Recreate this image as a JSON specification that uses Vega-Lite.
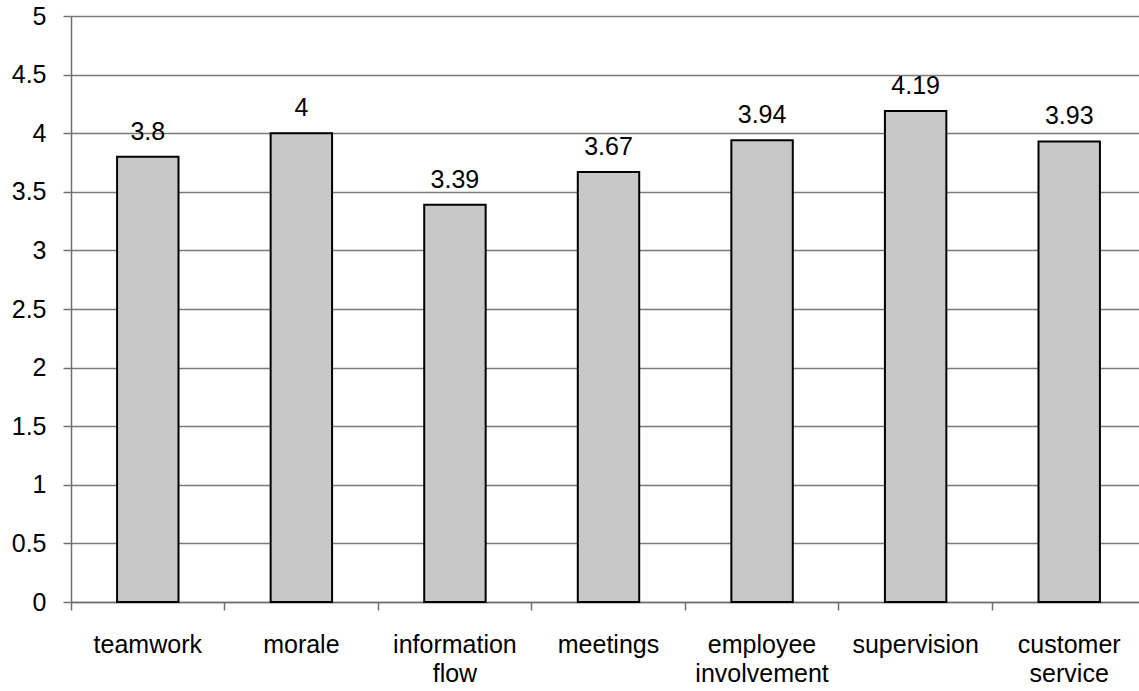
{
  "$schema": "https://vega.github.io/schema/vega-lite/v6.json",
  "width": 1075,
  "height": 586,
  "autosize": {"type": "none"},
  "padding": {"left": 71, "top": 16, "right": 0, "bottom": 89},
  "background": "white",
  "config": {
    "view": {"stroke": null},
    "font": "Liberation Sans"
  },
  "data": {
    "values": [
      {"category": "teamwork", "value": 3.8},
      {"category": "morale", "value": 4},
      {"category": "information flow", "value": 3.39},
      {"category": "meetings", "value": 3.67},
      {"category": "employee involvement", "value": 3.94},
      {"category": "supervision", "value": 4.19},
      {"category": "customer service", "value": 3.93}
    ]
  },
  "encoding": {
    "x": {
      "field": "category",
      "type": "nominal",
      "sort": null,
      "scale": {"paddingInner": 0, "paddingOuter": 0},
      "axis": {
        "title": null,
        "labelAngle": 0,
        "labelFontSize": 25,
        "labelColor": "black",
        "labelPadding": 22,
        "labelLineHeight": 29,
        "labelExpr": "split(datum.label, ' ')",
        "ticks": true,
        "bandPosition": 0,
        "tickSize": 8,
        "tickColor": "#707070",
        "tickWidth": 1.5,
        "domainColor": "#707070",
        "domainWidth": 1.5,
        "grid": false
      }
    },
    "y": {
      "field": "value",
      "type": "quantitative",
      "scale": {"domain": [0, 5], "nice": false},
      "axis": {
        "title": null,
        "values": [0, 0.5, 1, 1.5, 2, 2.5, 3, 3.5, 4, 4.5, 5],
        "format": "~g",
        "labelFontSize": 25,
        "labelColor": "black",
        "labelPadding": 17,
        "tickSize": 8,
        "tickColor": "#707070",
        "tickWidth": 1.5,
        "domainColor": "#707070",
        "domainWidth": 1.5,
        "grid": true,
        "gridColor": "#7a7a7a",
        "gridWidth": 1.5
      }
    }
  },
  "layer": [
    {
      "mark": {"type": "bar", "width": {"band": 0.4}, "fill": "#c8c8c8", "stroke": "black", "strokeWidth": 2}
    },
    {
      "mark": {"type": "text", "dy": -12, "baseline": "bottom", "fontSize": 25, "color": "black"},
      "encoding": {"text": {"field": "value", "type": "quantitative"}}
    }
  ]
}
